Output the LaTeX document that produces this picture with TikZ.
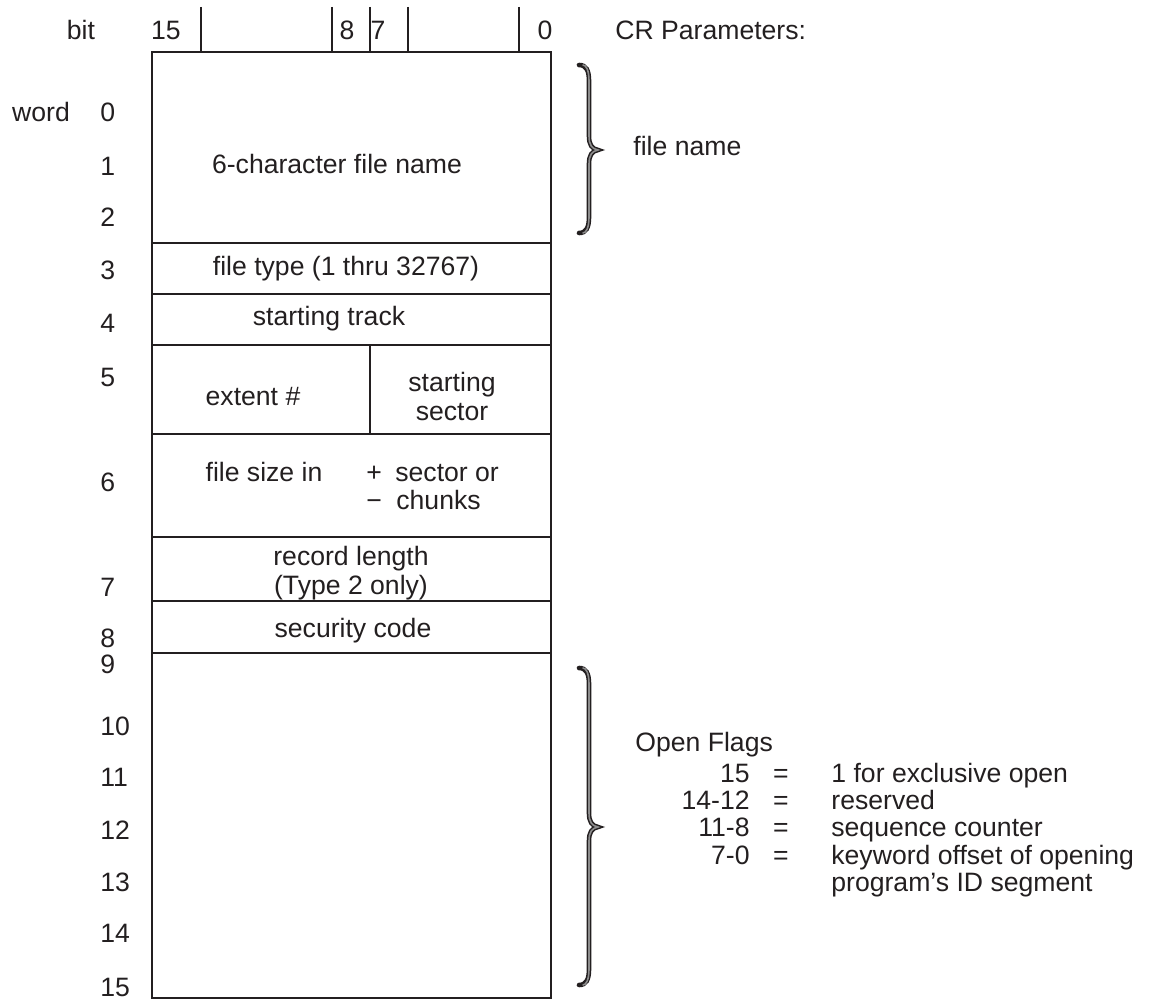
\documentclass[tikz,border=0pt]{standalone}
\usepackage{fontspec}
\setmainfont{Liberation Sans}
\definecolor{ink}{RGB}{35,31,32}
\tikzset{
  rule/.style={line width=1.2pt, draw=ink},
  txt/.style={inner sep=0pt, anchor=base, font=\fontsize{13.3}{16}\selectfont, text=ink},
  txtl/.style={txt, anchor=base west},
  txtr/.style={txt, anchor=base east},
  braceout/.style={line width=2.3pt, draw=ink, line cap=round},
  bracein/.style={line width=0.8pt, draw=black!45, line cap=round, shorten <=2pt, shorten >=2pt},
}
% right curly brace: top y, tip y, bottom y
\newcommand\curlypath[3]{(579,#1) .. controls (586,#1) and (589,#1+5) .. (589,#1+16)
  -- (589,#2-14) .. controls (589,#2-5) and (592,#2-1) .. (598,#2)
  .. controls (592,#2+1) and (589,#2+5) .. (589,#2+14)
  -- (589,#3-16) .. controls (589,#3-5) and (586,#3) .. (579,#3)}
\begin{document}
\begin{tikzpicture}[x=0.5pt, y=-0.5pt]
\useasboundingbox (0,0) rectangle (1151,1000);

% bit ruler
\node[txt] (bit) at (81,40) {bit};
\node[txt] (b15) at (166,40) {15};
\node[txt] (b8) at (347,40) {8};
\node[txt] (b7) at (378,40) {7};
\node[txt] (b0) at (545,40) {0};
\foreach \x in {201,332,370,408,519} \draw[rule] (\x,7) -- (\x,52);
\node[txtl] (cr) at (615,40) {CR Parameters:};

% word frame
\draw[rule] (152,52) rectangle (551,998);
\foreach \y in {243,294,345,434,537,601,653} \draw[rule] (152,\y) -- (551,\y);
\draw[rule] (370,345) -- (370,434);

% word numbers
\node[txt] (word) at (41,122) {word};
\foreach \n/\y in {0/122,1/176,2/227,3/279,4/332,5/386,6/491,7/596,8/647,9/673,10/735,11/786,12/839,13/891,14/942,15/996}
  \node[txtl] (w\n) at (100,\y) {\n};

% field texts
\node[txt] (fname) at (337,174) {6-character file name};
\node[txt] (ftype) at (346,276) {file type (1 thru 32767)};
\node[txt] (strack) at (329,326) {starting track};
\node[txt] (extent) at (253,405) {extent \#};
\node[txt] (ssec1) at (452,391) {starting};
\node[txt] (ssec2) at (452,420) {sector};
\node[txt] (fsize) at (264,481) {file size in};
\node[txtl] (plus) at (366,481) {+};
\node[txtl] (sector) at (395,481) {sector or};
\node[txtl] (minus) at (366,509) {−};
\node[txtl] (chunks) at (396,509) {chunks};
\node[txt] (rlen1) at (351,565) {record length};
\node[txt] (rlen2) at (351,594) {(Type 2 only)};
\node[txt] (scode) at (353,637) {security code};

% braces
\draw[braceout] \curlypath{65}{150}{233};
\draw[bracein] \curlypath{65}{150}{233};
\draw[braceout] \curlypath{668}{827}{985};
\draw[bracein] \curlypath{668}{827}{985};
\node[txtl] (fnlabel) at (633,156) {file name};

% open flags legend
\node[txtl] (oflags) at (635,751) {Open Flags};
\foreach \k/\bits/\desc/\y in {a/15/1 for exclusive open/782, b/14-12/reserved/809, c/11-8/sequence counter/836, d/7-0/keyword offset of opening/864}{
  \node[txtr] (n\k) at (750,\y) {\bits};
  \node[txt] (e\k) at (781,\y) {=};
  \node[txtl] (d\k) at (831,\y) {\desc};
}
\node[txtl] (dd2) at (831,891) {program’s ID segment};
\end{tikzpicture}
\end{document}
